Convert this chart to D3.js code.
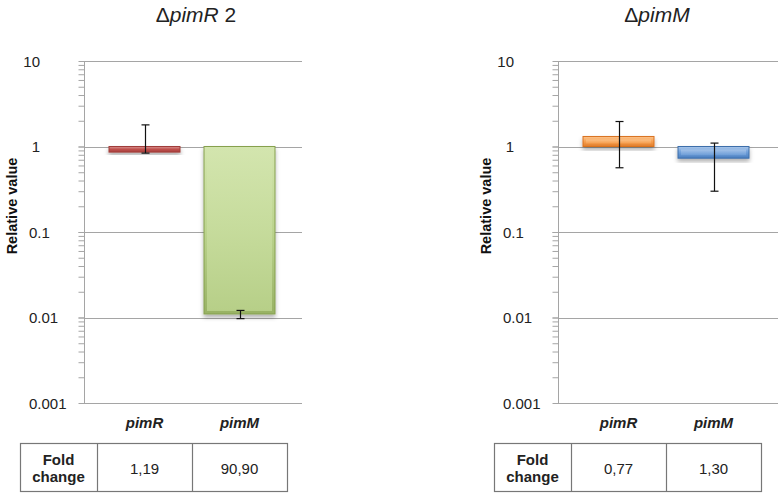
<!DOCTYPE html>
<html><head><meta charset="utf-8">
<script src="https://cdn.jsdelivr.net/npm/d3@7"></script>
<style>
body{margin:0;background:#fff;}
svg{display:block;font-family:Arial,"Liberation Sans",sans-serif;}
</style></head>
<body><svg id="chart" width="783" height="497"></svg>
<script>
// ---- data ----
const categories = ["pimR", "pimM"];
const panelTitles = [["Δ", "pimR", " 2"], ["Δ", "pimM", ""]];
const valuesPimR2 = [0.86, 0.011];
const errLowPimR2 = [0.837, 0.0097];
const errHighPimR2 = [1.79, 0.0121];
const valuesPimM = [1.31, 0.73];
const errLowPimM = [0.564, 0.30];
const errHighPimM = [1.96, 1.096];
const foldPimR2 = ["1,19", "90,90"];
const foldPimM = ["0,77", "1,30"];
const majorTicks = [10, 1, 0.1, 0.01, 0.001];
const majorTickLabels = ["10", "1", "0.1", "0.01", "0.001"];
const yLabel = "Relative value";
const foldLabel = ["Fold", "change"];

// ---- styles ----
const barStyles = [
  [{edge:"#a03e3b", top:"#d99491", mid:"#c0504d", bot:"#a8423f"},
   {edge:"#86a04e", top:"#d3e5ae", mid:"#bcd48e", bot:"#98b264"}],
  [{edge:"#d9731f", top:"#fcc48c", mid:"#f7a050", bot:"#e07b28"},
   {edge:"#3c6eaa", top:"#a9c6ea", mid:"#6f9fd9", bot:"#4a7fc0"}]
];
const panels = [
  {ax: 84, gridEnd: 302, titleX: 196, values: valuesPimR2, lo: errLowPimR2, hi: errHighPimR2, fold: foldPimR2},
  {ax: 558, gridEnd: 778, titleX: 657, values: valuesPimM, lo: errLowPimM, hi: errHighPimM, fold: foldPimM}
];

const svg = d3.select("#chart");
const defs = svg.append("defs");
const f = defs.append("filter").attr("id","shadow").attr("x","-20%").attr("y","-20%").attr("width","140%").attr("height","160%");
f.append("feDropShadow").attr("dx",0).attr("dy",3).attr("stdDeviation",2).attr("flood-color","#000").attr("flood-opacity",0.3);

const y = d3.scaleLog().domain([0.001, 10]).range([403, 61]);
const minorTicks = [];
[0.001, 0.01, 0.1, 1].forEach(dec => { for (let k = 1; k <= 10; k++) minorTicks.push(+(dec*k).toPrecision(3)); });

const gridColor = "#a5a5a5";

panels.forEach((p, pi) => {
  const g = svg.append("g");
  const x = d3.scaleBand().domain(categories).range([p.ax + 13, p.ax + 203]).padding(0);
  const barW = 71;

  // title
  const t = g.append("text").attr("x", p.titleX).attr("y", 22).attr("text-anchor","middle")
    .attr("font-size", 21).attr("fill","#222");
  t.append("tspan").text(panelTitles[pi][0]);
  t.append("tspan").attr("font-style","italic").text(panelTitles[pi][1]);
  t.append("tspan").text(panelTitles[pi][2]);

  // gridlines
  g.selectAll("line.grid").data(majorTicks).join("line")
    .attr("x1", p.ax).attr("x2", p.gridEnd)
    .attr("y1", d => Math.round(y(d)) + 0.5).attr("y2", d => Math.round(y(d)) + 0.5)
    .attr("stroke", gridColor).attr("stroke-width", 1);

  // axis with minor ticks
  const axis = d3.axisLeft(y).tickValues(minorTicks).tickSize(6).tickFormat("");
  const ag = g.append("g").attr("transform", `translate(${p.ax + 0.5},0)`).call(axis);
  ag.select(".domain").attr("stroke", gridColor).attr("d", `M0,${y(10)}V${y(0.001)}`);
  ag.selectAll(".tick line").attr("stroke", gridColor);

  // tick labels
  g.selectAll("text.tl").data(majorTicks).join("text")
    .attr("x", d => d >= 1 ? p.ax - 44 : p.ax - 55)
    .attr("y", d => y(d) + 5.5)
    .attr("text-anchor", d => d >= 1 ? "end" : "start")
    .attr("font-size", 15).attr("fill","#222")
    .text((d,i) => majorTickLabels[i]);

  // y label
  g.append("text").attr("transform", `translate(${p.ax - 67},206) rotate(-90)`)
    .attr("text-anchor","middle").attr("font-size", 14.5).attr("font-weight","bold").attr("fill","#111")
    .text(yLabel);

  // bars
  categories.forEach((c, i) => {
    const st = barStyles[pi][i];
    const gid = `g${pi}${i}`, gid2 = `h${pi}${i}`;
    const lg = defs.append("linearGradient").attr("id", gid).attr("x1",0).attr("y1",0).attr("x2",0).attr("y2",1);
    lg.append("stop").attr("offset","0%").attr("stop-color", st.top);
    lg.append("stop").attr("offset","50%").attr("stop-color", st.mid);
    lg.append("stop").attr("offset","100%").attr("stop-color", st.bot);
    const lg2 = defs.append("linearGradient").attr("id", gid2).attr("x1",0).attr("y1",0).attr("x2",0).attr("y2",1);
    lg2.append("stop").attr("offset","0%").attr("stop-color", st.top);
    lg2.append("stop").attr("offset","100%").attr("stop-color", st.mid);
    const v = p.values[i];
    const cx = x(c) + x.bandwidth()/2;
    const y0 = y(1), y1 = y(v);
    const top = Math.min(y0, y1), h = Math.abs(y1 - y0);
    g.append("rect").attr("x", cx - barW/2).attr("y", top).attr("width", barW).attr("height", h)
      .attr("fill", `url(#${gid})`).attr("stroke", st.edge).attr("stroke-width", 1).attr("filter","url(#shadow)");
    const ins = 3;
    if (h > 2*ins + 1) {
      g.append("rect").attr("x", cx - barW/2 + ins).attr("y", top + ins).attr("width", barW - 2*ins).attr("height", h - 2*ins)
        .attr("fill", `url(#${gid2})`).attr("opacity", 0.85);
    }
    // error bar
    const ex = cx + 1;
    const eg = g.append("g").attr("stroke","#111").attr("stroke-width",1.2);
    eg.append("line").attr("x1", ex).attr("x2", ex).attr("y1", y(p.hi[i])).attr("y2", y(p.lo[i]));
    eg.append("line").attr("x1", ex-4).attr("x2", ex+4).attr("y1", y(p.hi[i])).attr("y2", y(p.hi[i]));
    eg.append("line").attr("x1", ex-4).attr("x2", ex+4).attr("y1", y(p.lo[i])).attr("y2", y(p.lo[i]));

    // category label
    g.append("text").attr("x", cx).attr("y", 428).attr("text-anchor","middle")
      .attr("font-size", 15).attr("font-weight","bold").attr("font-style","italic").attr("fill","#222")
      .text(c);
  });

  // table
  const tx0 = p.ax - 64, tx1 = x.range()[0], tx2 = x.range()[0] + x.step(), tx3 = x.range()[1];
  const ty0 = 443.5, ty1 = 491.5;
  const tg = g.append("g").attr("stroke","#777").attr("stroke-width",1.2).attr("fill","none");
  tg.append("rect").attr("x", tx0 + 0.5).attr("y", ty0).attr("width", tx3 - tx0).attr("height", ty1 - ty0);
  [tx1, tx2].forEach(xx => tg.append("line").attr("x1", xx + 0.5).attr("x2", xx + 0.5).attr("y1", ty0).attr("y2", ty1));
  const ft = g.append("text").attr("text-anchor","middle").attr("font-size", 15).attr("font-weight","bold").attr("fill","#222");
  ft.append("tspan").attr("x", (tx0 + tx1)/2).attr("y", 465).text(foldLabel[0]);
  ft.append("tspan").attr("x", (tx0 + tx1)/2).attr("y", 482).text(foldLabel[1]);
  categories.forEach((c, i) => {
    g.append("text").attr("x", x(c) + x.bandwidth()/2).attr("y", 474).attr("text-anchor","middle")
      .attr("font-size", 15).attr("fill","#222").text(p.fold[i]);
  });
});
</script></body></html>
